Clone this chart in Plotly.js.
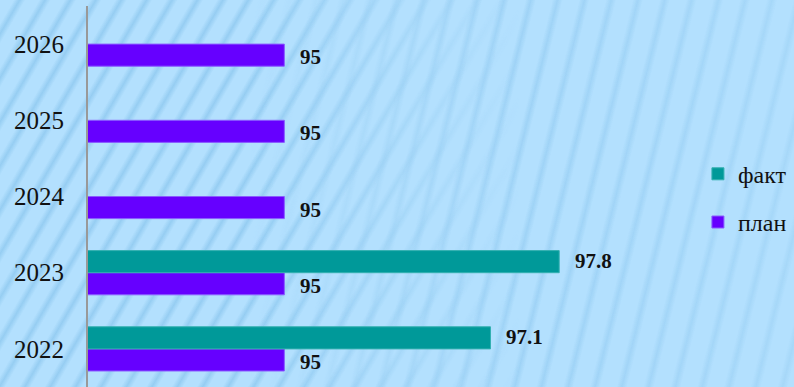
<!DOCTYPE html>
<html>
<head>
<meta charset="utf-8">
<script src="https://cdn.plot.ly/plotly-3.0.1.min.js"></script>
<style>
html, body { margin:0; padding:0; }
#wrap { position:relative; width:794px; height:387px; background:#b3e0fe; overflow:hidden; }
.bg { position:absolute; left:0; top:0; width:794px; height:387px; }
#bgL {
  background-image: repeating-linear-gradient(120deg, rgba(150,205,242,0) 0px, rgba(150,205,242,0) 12px, rgba(150,205,242,1) 17px, rgba(150,205,242,0) 22px);
  -webkit-mask-image: linear-gradient(to right, #000 0px, #000 250px, rgba(0,0,0,0) 520px);
  mask-image: linear-gradient(to right, #000 0px, #000 250px, rgba(0,0,0,0) 520px);
}
#bgR {
  background-image: repeating-linear-gradient(104deg, rgba(155,208,244,0) 0px, rgba(155,208,244,0) 16px, rgba(155,208,244,0.85) 21px, rgba(155,208,244,0) 26px);
  -webkit-mask-image: linear-gradient(to right, rgba(0,0,0,0) 250px, #000 520px, rgba(0,0,0,0.6) 794px);
  mask-image: linear-gradient(to right, rgba(0,0,0,0) 250px, #000 520px, rgba(0,0,0,0.6) 794px);
}
#chart { position:absolute; left:0; top:0; width:794px; height:387px; }
</style>
</head>
<body>
<div id="wrap">
  <div class="bg" id="bgL"></div>
  <div class="bg" id="bgR"></div>
  <div id="chart"></div>
</div>
<script>
var years = ['2022', '2023', '2024', '2025', '2026'];
var planValues = [95, 95, 95, 95, 95];
var factValues = [97.1, 97.8, null, null, null];
var seriesNames = ['план', 'факт'];
var planColor = '#6600ff';
var factColor = '#009999';

var traces = [
  {
    type: 'bar', orientation: 'h', name: seriesNames[0],
    y: years, x: planValues,
    marker: { color: planColor, line: { color: '#8a5cff', width: 1 } },
    legendgroup: 'g2', legendrank: 2, hoverinfo: 'x'
  },
  {
    type: 'bar', orientation: 'h', name: seriesNames[1],
    y: years, x: factValues,
    marker: { color: factColor, line: { color: '#33b0b0', width: 1 } },
    legendgroup: 'g1', legendrank: 1, hoverinfo: 'x'
  }
];

var annotations = [];
function addLabels(vals, shift) {
  vals.forEach(function (v, i) {
    if (v === null) return;
    annotations.push({
      x: v, y: i, xref: 'x', yref: 'y',
      text: String(v), showarrow: false,
      xanchor: 'left', yanchor: 'middle', xshift: 14, yshift: shift,
      font: { family: 'Liberation Serif, Times New Roman, serif', size: 21, color: '#111', weight: 'bold' }
    });
  });
}
addLabels(planValues, -13);
addLabels(factValues, 12);

var layout = {
  width: 794, height: 387,
  margin: { l: 88, r: 117, t: 6, b: 0 },
  paper_bgcolor: 'rgba(0,0,0,0)',
  plot_bgcolor: 'rgba(0,0,0,0)',
  barmode: 'group',
  bargap: 0.42,
  bargroupgap: 0,
  showlegend: true,
  legend: {
    xref: 'container', yref: 'container',
    x: 0.879, y: 0.608, xanchor: 'left', yanchor: 'top',
    traceorder: 'grouped', tracegroupgap: 14,
    font: { family: 'Liberation Serif, Times New Roman, serif', size: 24, color: '#111' },
    bgcolor: 'rgba(0,0,0,0)', itemwidth: 30
  },
  xaxis: {
    range: [93, 99], showgrid: false, zeroline: false,
    showticklabels: false, ticks: '', showline: false, fixedrange: true
  },
  yaxis: {
    type: 'category', range: [-0.5, 4.5], autorange: false,
    showgrid: false, zeroline: false,
    showline: true, linecolor: '#999999', linewidth: 2,
    ticks: '', ticklabelstandoff: 17,
    tickfont: { family: 'Liberation Serif, Times New Roman, serif', size: 25, color: '#111' },
    automargin: false, fixedrange: true
  },
  annotations: annotations
};

Plotly.newPlot('chart', traces, layout, { displayModeBar: false, staticPlot: true });
</script>
</body>
</html>
